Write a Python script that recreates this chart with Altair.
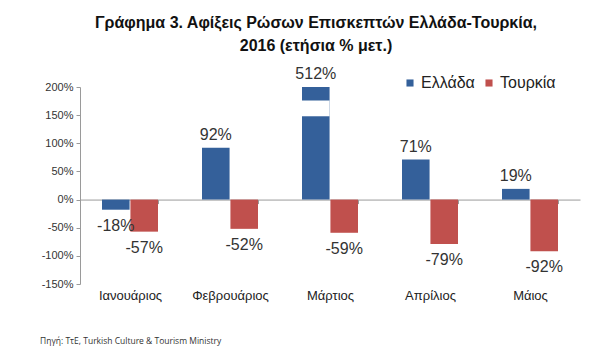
import altair as alt
import pandas as pd

months = ["Ιανουάριος", "Φεβρουάριος", "Μάρτιος", "Απρίλιος", "Μάιος"]
countries = ["Ελλάδα", "Τουρκία"]
greece = [-18, 92, 512, 71, 19]
turkey = [-57, -52, -59, -79, -92]
colors = ["#34609A", "#C0504D"]

# axis break drawn on the clipped March bar (value range in %)
break_month = "Μάρτιος"
break_country = "Ελλάδα"
break_low = 148
break_high = 176

y_domain = [-150, 200]
y_ticks = [-150, -100, -50, 0, 50, 100, 150, 200]

title_lines = ["Γράφημα 3. Αφίξεις Ρώσων Επισκεπτών Ελλάδα-Τουρκία,",
               "2016  (ετήσια % μετ.)"]
source = "Πηγή: ΤτΕ, Turkish Culture & Tourism Ministry"

rows = []
for m, g, t in zip(months, greece, turkey):
    rows.append({"Month": m, "Country": countries[0], "value": g, "label": f"{g}%"})
    rows.append({"Month": m, "Country": countries[1], "value": t, "label": f"{t}%"})
df = pd.DataFrame(rows)

break_df = pd.DataFrame({"Month": [break_month], "Country": [break_country],
                         "lo": [break_low], "hi": [break_high]})

FONT = "Liberation Sans"
n_height = 197
zero_offset = -n_height * (0 - y_domain[0]) / (y_domain[1] - y_domain[0])

x_scale = alt.Scale(paddingInner=0.44, paddingOuter=0.22)
x_axis = alt.Axis(title=None, orient="bottom", offset=zero_offset,
                  domainColor="#9a9a9a", tickColor="#9a9a9a",
                  tickBand="extent", tickSize=4, labelPadding=86,
                  labelFontSize=13, labelFont=FONT, labelColor="#222222",
                  labelAngle=0)
x_enc = alt.X("Month:N", sort=months, scale=x_scale, axis=x_axis)
xo_enc = alt.XOffset("Country:N", sort=countries,
                     scale=alt.Scale(paddingInner=0.03))
y_scale = alt.Scale(domain=y_domain, clamp=True, nice=False)
y_axis = alt.Axis(title=None, values=y_ticks, labelExpr="datum.value + '%'",
                  grid=False, domainColor="#9a9a9a", tickColor="#9a9a9a",
                  tickSize=4, labelFontSize=11, labelFont=FONT,
                  labelColor="#333333", labelPadding=3,
                  labelOverlap=False, labelFlush=False)

base = alt.Chart(df)

bars = base.mark_bar().encode(
    x=x_enc,
    xOffset=xo_enc,
    y=alt.Y("value:Q", scale=y_scale, axis=y_axis),
    color=alt.Color("Country:N", sort=countries,
                    scale=alt.Scale(domain=countries, range=colors),
                    legend=alt.Legend(title=None, orient="none", legendX=322, legendY=-12,
                                      direction="horizontal", symbolType="square",
                                      symbolSize=50, symbolStrokeWidth=0,
                                      labelFontSize=16, labelFont=FONT, labelOffset=3,
                                      labelColor="#222222", columnPadding=6)),
)

brk = alt.Chart(break_df).mark_bar(color="white").encode(
    x=x_enc,
    xOffset=xo_enc,
    y=alt.Y("lo:Q", scale=y_scale, axis=y_axis),
    y2="hi:Q",
)

txt_pos = base.transform_filter("datum.value >= 0").mark_text(
    baseline="bottom", dy=-5, fontSize=16, font=FONT, color="#333333"
).encode(x=x_enc, xOffset=xo_enc,
         y=alt.Y("value:Q", scale=y_scale, axis=y_axis), text="label:N")

txt_neg = base.transform_filter("datum.value < 0").mark_text(
    baseline="top", dy=8, fontSize=16, font=FONT, color="#333333"
).encode(x=x_enc, xOffset=xo_enc,
         y=alt.Y("value:Q", scale=y_scale, axis=y_axis), text="label:N")

src = alt.Chart(pd.DataFrame({"t": [source]})).mark_text(
    align="left", baseline="middle", fontSize=8.5, font="Open Sans", color="#333333"
).encode(text="t:N", x=alt.value(-40), y=alt.value(254))

chart = alt.layer(bars, brk, txt_pos, txt_neg, src).properties(
    width=500, height=n_height,
    title=alt.TitleParams(text=title_lines, fontSize=16, font=FONT, fontWeight="bold",
                          anchor="middle", dx=-14, offset=12, lineHeight=23,
                          color="#111111"),
    autosize="none",
    padding={"left": 72, "top": 79, "right": 22, "bottom": 70},
).configure_view(stroke=None)

chart.save("out.html", embed_options={"renderer": "svg", "actions": False})
